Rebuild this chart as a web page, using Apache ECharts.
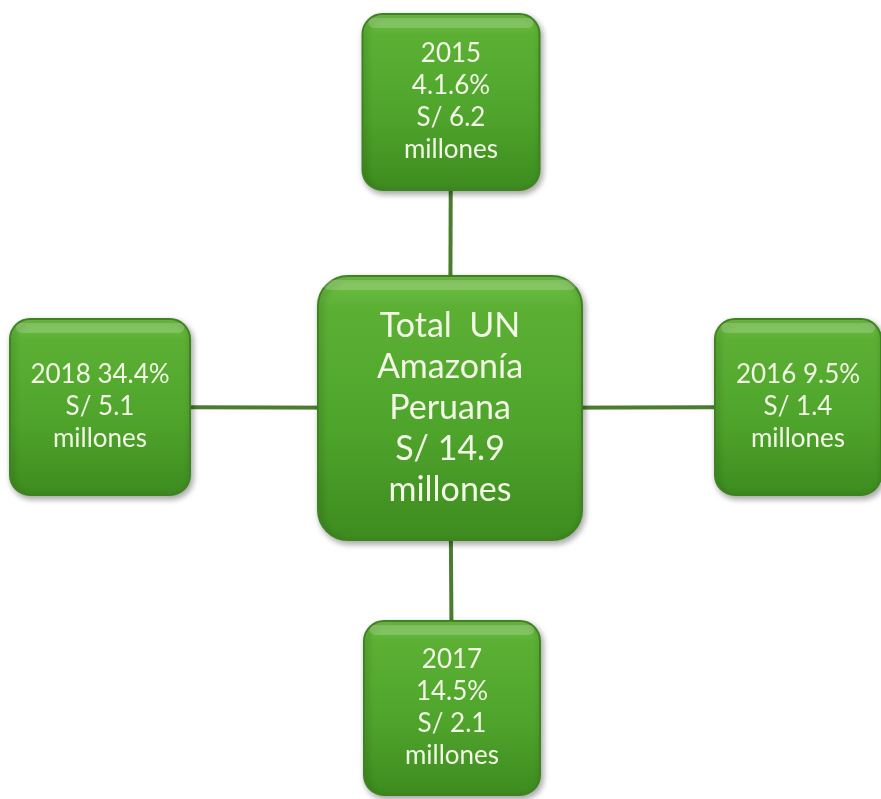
<!doctype html>
<html>
<head>
<meta charset="utf-8">
<title>Total UN Amazonía Peruana</title>
<script src="https://cdn.jsdelivr.net/npm/echarts@6/dist/echarts.min.js"></script>
<style>
    body{margin: 0;background: #fff;}
    #main{width: 881px;height: 799px;}
</style>
</head>
<body>
<div id="main"></div>
<script>
    // datos del diagrama
    var years = ['2015', '2016', '2017', '2018'];
    var shares = ['4.1.6%', '9.5%', '14.5%', '34.4%'];
    var amounts = ['6.2', '1.4', '2.1', '5.1'];
    var centerLines = ['Total  UN', 'Amazonía', 'Peruana'];
    var totalAmount = '14.9';
    var unit = 'millones';

    // posicion de cada caja (arriba, derecha, abajo, izquierda) y la central
    var slots = [
        {cx: 451, cy: 102, w: 177, h: 176, wide: false},
        {cx: 798, cy: 407, w: 166, h: 176, wide: true},
        {cx: 452, cy: 708, w: 176, h: 174, wide: false},
        {cx: 100, cy: 407, w: 180, h: 176, wide: true}
    ];
    var hub = {cx: 450, cy: 408, w: 264, h: 264};

    function boxText(i){
        if (slots[i].wide) {
            return years[i] + ' ' + shares[i] + '\nS/ ' + amounts[i] + '\n' + unit;
        }
        return years[i] + '\n' + shares[i] + '\nS/ ' + amounts[i] + '\n' + unit;
    }

    var boxes = [];
    for (var i = 0; i < years.length; i++) {
        boxes.push({value: [slots[i].cx, slots[i].cy, slots[i].w, slots[i].h], label: boxText(i), size: 26, lh: 32, r: 20});
    }
    boxes.push({value: [hub.cx, hub.cy, hub.w, hub.h], label: centerLines.join('\n') + '\nS/ ' + totalAmount + '\n' + unit, size: 34, lh: 41, r: 30});

    var links = slots.map(function (s) { return {value: [hub.cx, hub.cy, s.cx, s.cy]}; });

    var fill = new echarts.graphic.LinearGradient(0, 0, 0, 1, [
        {offset: 0, color: '#74c248'},
        {offset: 0.12, color: '#5bb034'},
        {offset: 0.6, color: '#4ea32b'},
        {offset: 1, color: '#3d8b1f'}
    ]);

    var myChart = echarts.init(document.getElementById('main'));
    var option = {
        animation: false,
        grid: {left: 0, right: 0, top: 0, bottom: 0},
        xAxis: {type: 'value', min: 0, max: 881, show: false},
        yAxis: {type: 'value', min: 0, max: 799, inverse: true, show: false},
        series: [{
            type: 'custom',
            data: links,
            renderItem: function (params, api) {
                var a = api.coord([api.value(0), api.value(1)]);
                var b = api.coord([api.value(2), api.value(3)]);
                return {
                    type: 'line',
                    shape: {x1: a[0], y1: a[1], x2: b[0], y2: b[1]},
                    style: {stroke: '#4a7d2f', lineWidth: 4}
                };
            }
        }, {
            type: 'custom',
            data: boxes,
            renderItem: function (params, api) {
                var d = boxes[params.dataIndex];
                var c = api.coord([api.value(0), api.value(1)]);
                var w = api.value(2), h = api.value(3);
                var x = c[0] - w / 2, y = c[1] - h / 2;
                return {
                    type: 'group',
                    children: [{
                        type: 'rect',
                        shape: {x: x, y: y, width: w, height: h, r: d.r},
                        style: {fill: fill, stroke: '#3f8321', lineWidth: 2,
                            shadowBlur: 6, shadowColor: 'rgba(0,0,0,0.35)', shadowOffsetX: 2, shadowOffsetY: 3}
                    }, {
                        type: 'rect',
                        shape: {x: x + 6, y: y + 4, width: w - 12, height: 10, r: 5},
                        style: {fill: 'rgba(255,255,255,0.18)'}
                    }, {
                        type: 'text',
                        x: c[0],
                        y: c[1],
                        style: {
                            text: d.label,
                            fill: '#f2f7e6',
                            fontFamily: 'Lato, "Open Sans", sans-serif',
                            fontSize: d.size,
                            lineHeight: d.lh,
                            align: 'center',
                            verticalAlign: 'middle'
                        }
                    }]
                };
            }
        }]
    };
    myChart.setOption(option);
</script>
</body>
</html>
